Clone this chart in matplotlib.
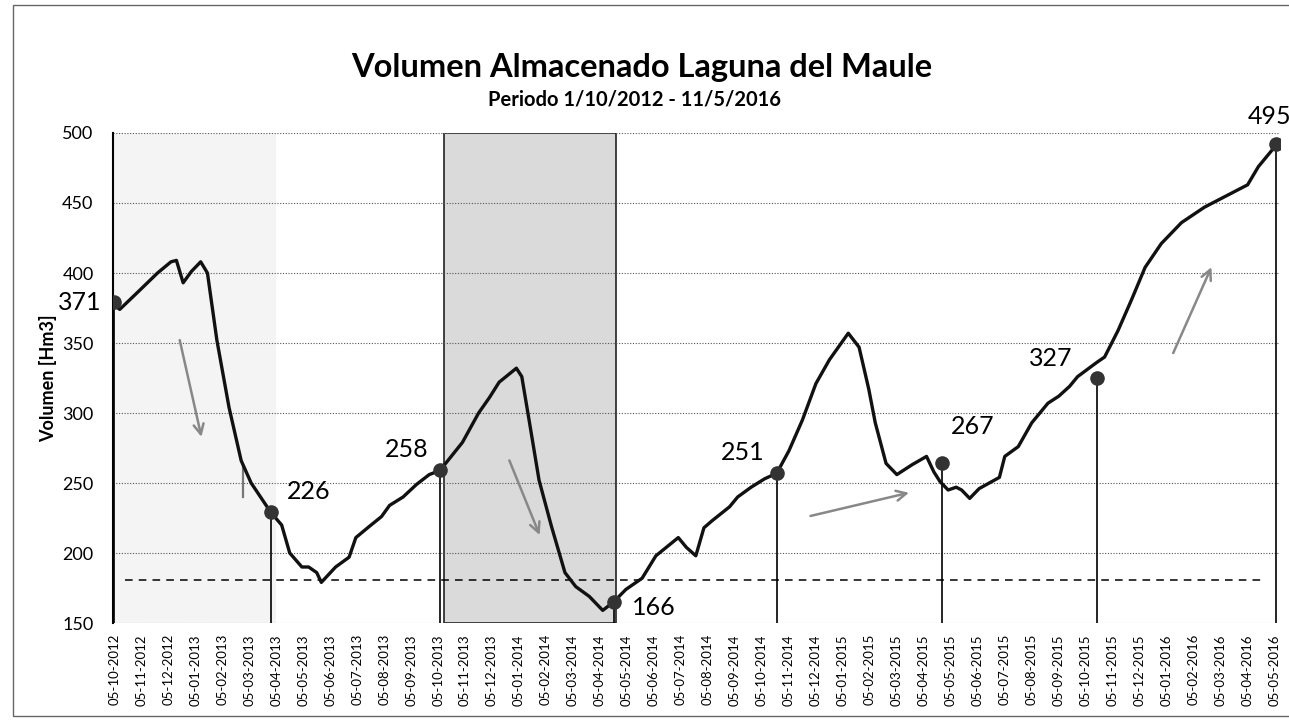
import matplotlib
matplotlib.use("Agg")
import matplotlib.pyplot as plt
from matplotlib.patches import Rectangle

plt.rcParams['font.family'] = ['Lato', 'DejaVu Sans']

# x = months since 05-10-2012
curve_m = [0, 0.2, 0.85, 1.6, 2.1, 2.3, 2.55, 2.85, 3.2, 3.45, 3.8, 4.25, 4.7, 5.07,
           5.8, 6.2, 6.5, 6.95, 7.2, 7.5, 7.67, 8.2, 8.7, 8.95, 9.45, 9.9, 10.2, 10.7,
           11.2, 11.67, 12.07, 12.9, 13.5, 13.9, 14.26, 14.9, 15.1, 15.37, 15.74, 16.2,
           16.7, 17.1, 17.6, 18.1, 18.5, 18.96, 19.56, 20.07, 20.9, 21.2, 21.55, 21.85,
           22.15, 22.8, 23.1, 23.6, 24.1, 24.55, 25.0, 25.5, 26.0, 26.5, 27.2, 27.6,
           27.96, 28.2, 28.6, 29.0, 29.56, 30.1, 30.37, 30.6, 30.9, 31.2, 31.4, 31.7,
           32.05, 32.8, 33.0, 33.5, 34.0, 34.6, 35.0, 35.4, 35.7, 36.4, 36.7, 37.2,
           37.7, 38.2, 38.8, 39.55, 40.4, 41.4, 42.0, 42.4, 43.0]
curve_v = [377, 374, 386, 400, 408, 409, 393, 401, 408, 400, 352, 304, 266, 250,
           229, 220, 200, 190, 190, 186, 179, 190, 197, 211, 219, 226, 234, 240,
           249, 256, 259, 279, 300, 311, 322, 332, 326, 295, 252, 219,
           186, 176, 169, 159, 165, 174, 182, 198, 211, 204, 198, 218,
           223, 233, 240, 247, 253, 257, 273, 295, 321, 338, 357, 347,
           317, 293, 264, 256, 263, 269, 258, 251, 245, 247, 245, 239,
           246, 254, 269, 276, 293, 307, 312, 319, 326, 336, 340, 359,
           381, 404, 421, 436, 447, 457, 463, 476, 490]

dot_m = [0, 5.8, 12.07, 18.5, 24.55, 30.67, 36.4, 43.05]
dot_v = [379, 229, 259, 165, 257, 264, 325, 492]
dot_labels = ['371', '226', '258', '166', '251', '267', '327', '495']
label_m = [-1.3, 7.22, 10.85, 20.0, 23.3, 31.8, 34.7, 42.8]
label_v = [379, 244, 273.6, 161.4, 272, 290, 339, 512]

min_level = 181

# hand drawn arrows (start m, start v, end m, end v)
arrows = [(2.4, 354, 3.25, 281),
          (14.6, 268, 15.8, 211),
          (25.7, 226, 29.55, 243.5),
          (39.2, 341, 40.7, 406)]

months = [(10 + i - 1) % 12 + 1 for i in range(44)]
years = [2012 + (10 + i - 1) // 12 for i in range(44)]
tick_labels = ['05-%02d-%d' % (mo, yr) for mo, yr in zip(months, years)]

fig = plt.figure(figsize=(12.89, 7.24), dpi=100)
ax = fig.add_axes([113 / 1289, 1 - 623 / 724, (1280 - 113) / 1289, (623 - 133) / 724])

ax.axvspan(0, 6, color='#f4f4f4', zorder=0, lw=0)
ax.add_patch(Rectangle((12.2, 150), 18.6 - 12.2, 350, facecolor='#dadada',
                       edgecolor='#222222', lw=1.2, zorder=0.5))

ax.set_ylim(150, 500)
ax.set_xlim(-0.05, 43.2)
ax.set_yticks(range(150, 501, 50))
ax.yaxis.grid(True, color='#555555', ls=(0, (1, 1.5)), lw=0.8)
ax.set_axisbelow(True)

ax.axhline(min_level, xmin=0.01, xmax=0.985, color='black', ls=(0, (5, 4)), lw=1.1, zorder=2)

ax.plot(curve_m, curve_v, color='#111111', lw=2.4, zorder=4)

for m, v in zip(dot_m, dot_v):
    ax.plot([m, m], [150, v], color='black', lw=1.2, zorder=3)
ax.scatter(dot_m, dot_v, s=90, color='#333333', zorder=5)

for txt, m, v in zip(dot_labels, label_m, label_v):
    ax.text(m, v, txt, fontsize=18, ha='center', va='center', clip_on=False, zorder=6)

for m0, v0, m1, v1 in arrows:
    ax.annotate('', xy=(m1, v1), xytext=(m0, v0),
                arrowprops=dict(arrowstyle='->', color='#888888', lw=1.8,
                                mutation_scale=18))
ax.plot([4.78, 4.78], [240, 262], color='#777777', lw=1.6, zorder=3)

ax.set_xticks(range(44))
ax.set_xticklabels(tick_labels, rotation=90, fontsize=9.5)
ax.tick_params(axis='both', length=0)
ax.tick_params(axis='x', pad=8)
ax.tick_params(axis='y', labelsize=13, pad=14)

for s in ['top', 'right', 'bottom']:
    ax.spines[s].set_visible(False)
ax.spines['left'].set_color('black')
ax.spines['left'].set_linewidth(1.5)

ax.set_ylabel('Volumen [Hm3]', fontsize=13, fontweight='bold', labelpad=4)

fig.text(642 / 1289, 1 - 67 / 724, 'Volumen Almacenado Laguna del Maule',
         ha='center', va='center', fontsize=23.5, fontweight='bold')
fig.text(634 / 1289, 1 - 100 / 724, 'Periodo 1/10/2012 - 11/5/2016',
         ha='center', va='center', fontsize=14.5, fontweight='bold')

fig.add_artist(Rectangle((13 / 1289, 1 - 716 / 724), 1.1, (716 - 5) / 724,
                         transform=fig.transFigure, fill=False,
                         edgecolor='#666666', lw=1))

fig.savefig('out.png', dpi=100)
